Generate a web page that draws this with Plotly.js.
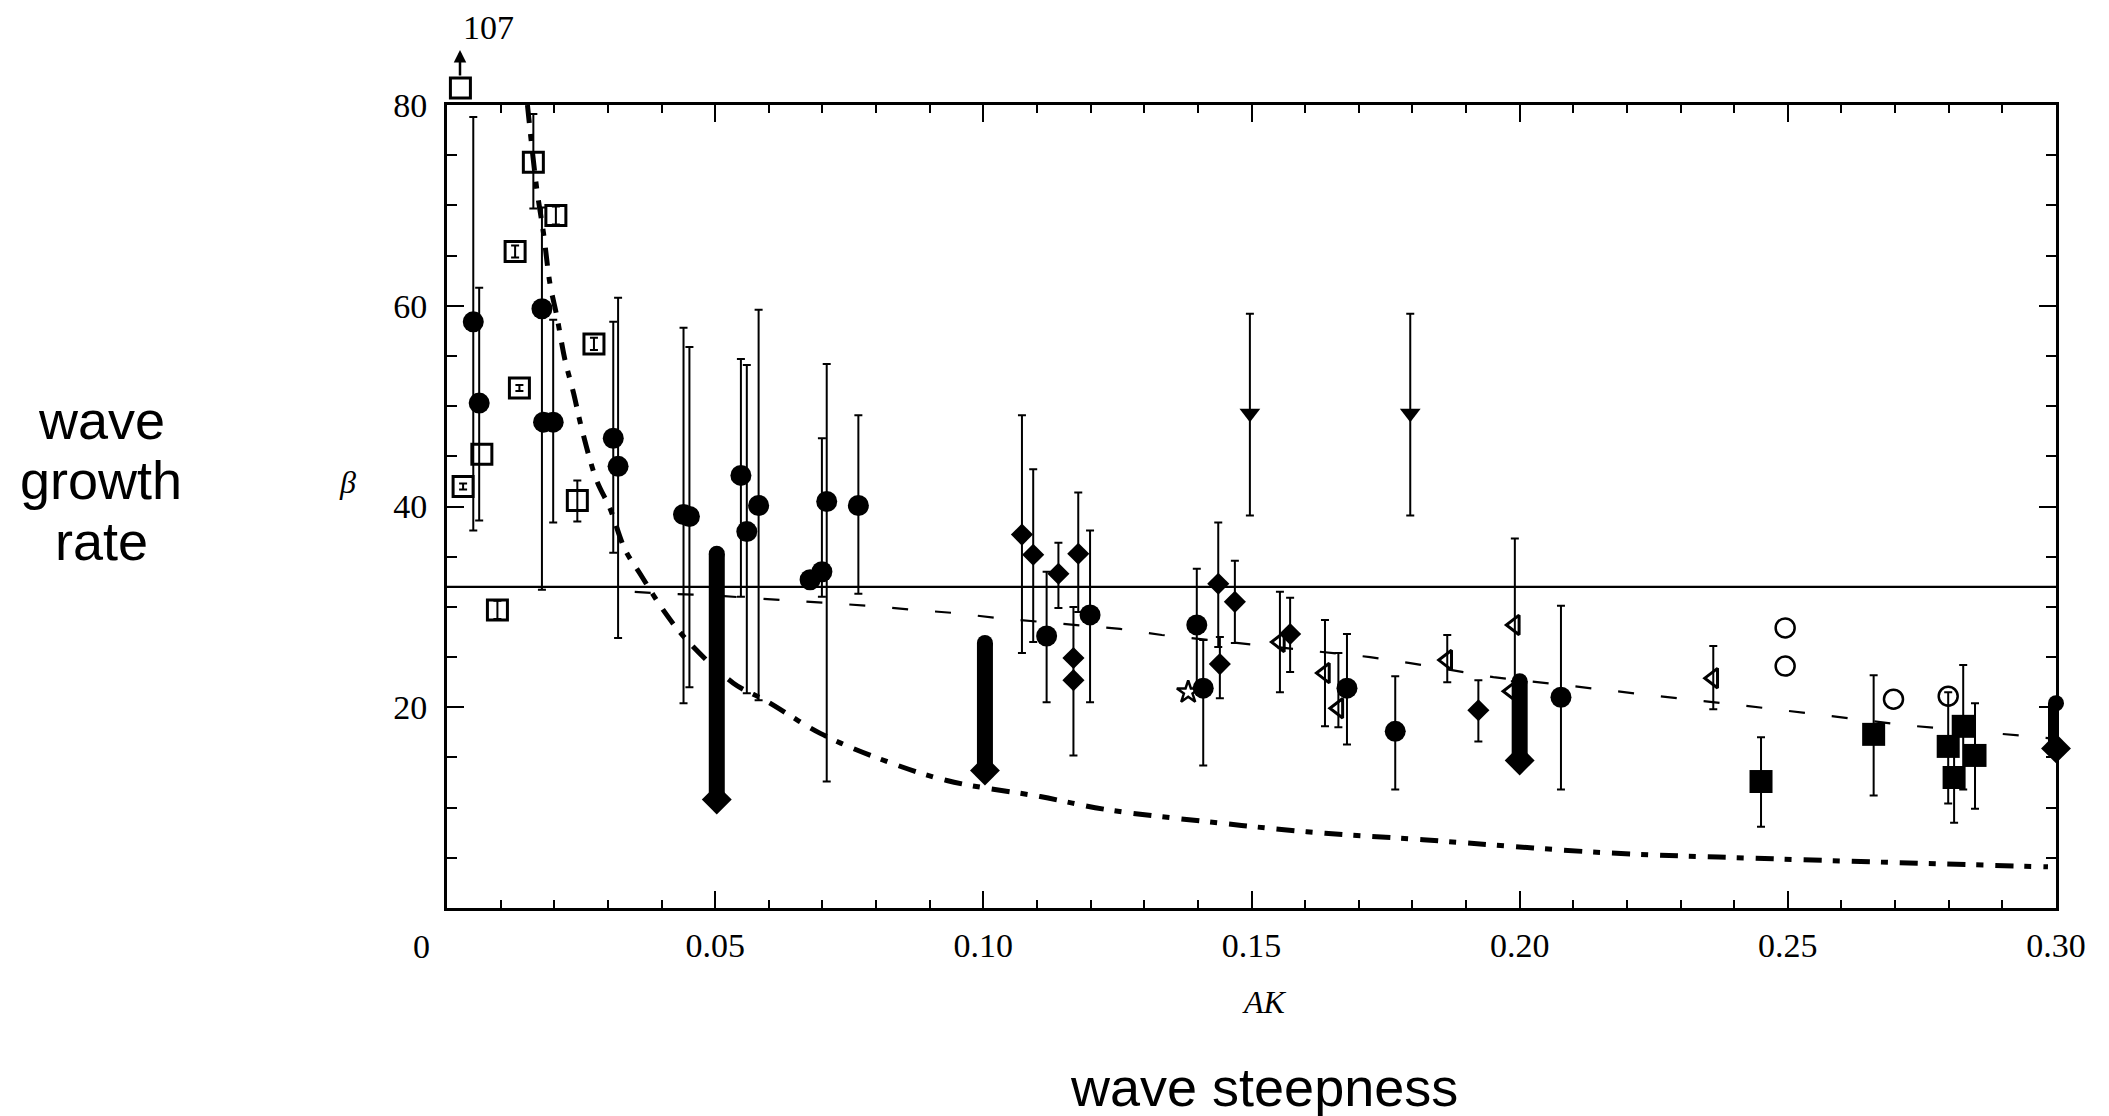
<!DOCTYPE html>
<html><head><meta charset="utf-8">
<script src="https://cdn.plot.ly/plotly-3.0.1.min.js"></script>
<style>html,body{margin:0;padding:0;background:#fff;} #chart{width:2109px;height:1116px;}</style>
</head><body><div id="chart"></div>
<script>
// ---- reference curves ----
const solidX = [0, 0.30];
const solidY = [32, 32];
const dashX = [0.035, 0.0403, 0.0478, 0.0637, 0.0789, 0.0870, 0.0944, 0.1025, 0.1255, 0.1333, 0.1721, 0.1796, 0.1951, 0.2100, 0.2259, 0.2414, 0.2573, 0.2722, 0.2990];
const dashY = [31.5, 31.3, 31.2, 30.6, 30.1, 29.7, 29.4, 28.9, 27.8, 27.2, 25.0, 24.4, 23.0, 22.1, 21.1, 20.2, 19.2, 18.2, 16.9];
const curveX = [0.0150, 0.0167, 0.0180, 0.0192, 0.0205, 0.0220, 0.0236, 0.0251, 0.0279, 0.0304, 0.0332, 0.0360, 0.0403, 0.0447, 0.0534, 0.0596, 0.0696, 0.0795, 0.0932, 0.1106, 0.1230, 0.1417, 0.1603, 0.1820, 0.2162, 0.2473, 0.2784, 0.2985];
const curveY = [80.0, 71.8, 67.2, 62.2, 58.9, 54.6, 51.3, 47.8, 42.6, 39.8, 35.7, 33.3, 29.7, 26.7, 22.4, 20.6, 17.4, 15.1, 12.7, 11.1, 9.8, 8.6, 7.6, 6.8, 5.5, 4.9, 4.4, 4.1];

// ---- filled circles ----
const circleX = [0.0049, 0.0060, 0.0177, 0.0180, 0.0198, 0.0310, 0.0319, 0.0441, 0.0452, 0.0548, 0.0559, 0.0581, 0.0677, 0.0699, 0.0708, 0.0767, 0.1118, 0.1199, 0.1398, 0.1410, 0.1678, 0.1768, 0.2077];
const circleY = [58.4, 50.3, 59.7, 48.4, 48.4, 46.8, 44.0, 39.2, 39.0, 43.1, 37.5, 40.1, 32.7, 33.5, 40.5, 40.1, 27.1, 29.2, 28.2, 21.9, 21.9, 17.6, 21.0];
const circleHi = [78.8, 61.8, 69.8, null, 58.6, 58.4, 60.8, 57.8, 55.9, 54.7, 54.1, 59.6, null, 46.8, 54.2, 49.1, 33.5, 37.6, 33.8, 26.7, 27.3, 23.1, 30.1];
const circleLo = [37.6, 38.6, 31.7, null, 38.4, 35.4, 26.9, 20.4, 22.0, 31.0, 21.4, 20.7, null, 31.0, 12.6, 31.3, 20.5, 20.5, 22.0, 14.2, 16.3, 11.8, 11.8];

// ---- open squares (first one is the off-scale point, beta = 107) ----
const sqOpenX = [0.0025, 0.0030, 0.0065, 0.0094, 0.0127, 0.0135, 0.0161, 0.0203, 0.0243, 0.0274];
const sqOpenY = [81.7, 42.0, 45.2, 29.7, 65.4, 51.8, 74.3, 69.0, 40.6, 56.2];
const sqOpenHi = [null, 42.3, null, 30.6, 66.0, 52.1, 79.1, 69.9, 42.6, 56.8];
const sqOpenLo = [null, 41.7, null, 28.8, 64.8, 51.5, 69.7, 68.1, 38.5, 55.6];

// ---- filled diamonds ----
const diaX = [0.1072, 0.1093, 0.1140, 0.1177, 0.1168, 0.1168, 0.1438, 0.1441, 0.1469, 0.1572, 0.1923];
const diaY = [37.2, 35.2, 33.3, 35.3, 24.9, 22.7, 32.3, 24.3, 30.5, 27.3, 19.7];
const diaHi = [49.1, 43.7, 36.4, 41.4, 30.0, null, 38.4, 27.0, 34.6, 30.9, 22.7];
const diaLo = [25.4, 26.5, 29.9, 29.5, 15.2, null, 26.0, 20.9, 26.4, 23.5, 16.6];

// ---- filled down triangles ----
const triDownX = [0.1497, 0.1796];
const triDownY = [49.3, 49.3];
const triDownHi = [59.2, 59.2];
const triDownLo = [39.1, 39.1];

// ---- open left triangles ----
const triLeftX = [0.1553, 0.1637, 0.1662, 0.1865, 0.1991, 0.1985, 0.2361];
const triLeftY = [26.5, 23.4, 19.9, 24.7, 28.2, 21.6, 22.9];
const triLeftHi = [31.5, 28.7, 25.4, 27.2, 36.8, null, 26.1];
const triLeftLo = [21.5, 18.1, 18.0, 22.5, 22.6, null, 19.8];

// ---- open star ----
const starX = [0.1382];
const starY = [21.5];

// ---- open circles ----
const openCircX = [0.2495, 0.2495, 0.2697, 0.2799];
const openCircY = [27.9, 24.1, 20.8, 21.1];

// ---- filled squares ----
const sqFillX = [0.2450, 0.2660, 0.2799, 0.2827, 0.2810, 0.2849];
const sqFillY = [12.6, 17.3, 16.1, 18.1, 13.0, 15.2];
const sqFillHi = [17.0, 23.2, 21.5, 24.2, 16.0, 20.4];
const sqFillLo = [8.1, 11.2, 10.4, 11.8, 8.5, 9.9];

// ---- thick ranges (bar with diamond at bottom) ----
const rangeX = [0.0503, 0.1003, 0.2000, 0.3000];
const rangeTop = [35.3, 26.4, 22.6, 20.4];
const rangeBottom = [10.8, 13.7, 14.7, 15.9];

// ---- tick labels ----
const xTickVals = [0.05, 0.10, 0.15, 0.20, 0.25, 0.30];
const xTickText = ['0.05', '0.10', '0.15', '0.20', '0.25', '0.30'];
const yTickVals = [20, 40, 60, 80];
const yTickText = ['20', '40', '60', '80'];

// Build marker traces; points with an error bar and points without one go in separate traces
function markerTraces(x, y, hi, lo, marker, extra) {
  const withE = { x: [], y: [], p: [], m: [] }, noE = { x: [], y: [] };
  x.forEach((xv, i) => {
    if (hi && hi[i] != null) {
      withE.x.push(xv); withE.y.push(y[i]);
      withE.p.push(hi[i] - y[i]); withE.m.push(y[i] - lo[i]);
    } else { noE.x.push(xv); noE.y.push(y[i]); }
  });
  const out = [];
  if (withE.x.length) out.push(Object.assign({
    x: withE.x, y: withE.y, mode: 'markers', marker: marker,
    error_y: { type: 'data', symmetric: false, array: withE.p, arrayminus: withE.m,
               color: '#000', thickness: 2, width: 4 } }, extra || {}));
  if (noE.x.length) out.push(Object.assign({
    x: noE.x, y: noE.y, mode: 'markers', marker: marker }, extra || {}));
  return out;
}

// geometry: plot area from y=60 to y=908 px; main y axis (0..80) occupies the lower part,
// a hidden twin axis with identical scale extends above it for the off-scale point.
const plotTop = 60, axisTop = 105, axisBottom = 908;
const yDomainTop = (axisBottom - axisTop) / (axisBottom - plotTop);
const yMax = 80;

const traces = [
  { x: solidX, y: solidY, mode: 'lines', line: { color: '#000', width: 2.2 } },
  { x: dashX, y: dashY, mode: 'lines', line: { color: '#000', width: 2.2, dash: '16px,27px' } },
  { x: curveX, y: curveY, mode: 'lines', line: { color: '#000', width: 5, dash: '18px,11px,7px,12px', shape: 'spline' } },
  // thick range bars
  { x: rangeX, y: rangeBottom, mode: 'markers', cliponaxis: false,
    marker: { symbol: 'diamond', size: 23, color: '#000' },
    error_y: { type: 'data', symmetric: false, array: rangeTop.map((t, i) => t - rangeBottom[i]),
               arrayminus: rangeX.map(() => 0), color: '#000', thickness: 16, width: 0 } },
  { x: rangeX, y: rangeTop, mode: 'markers', cliponaxis: false,
    marker: { symbol: 'circle', size: 16, color: '#000' } },
  ...markerTraces(circleX, circleY, circleHi, circleLo, { symbol: 'circle', size: 21, color: '#000' }),
  ...markerTraces(diaX, diaY, diaHi, diaLo, { symbol: 'diamond', size: 17, color: '#000' }),
  ...markerTraces(triDownX, triDownY, triDownHi, triDownLo, { symbol: 'triangle-down', size: 18, color: '#000' }),
  ...markerTraces(triLeftX, triLeftY, triLeftHi, triLeftLo, { symbol: 'triangle-left-open', size: 17, color: '#000', line: { width: 3 } }),
  ...markerTraces(starX, starY, null, null, { symbol: 'star-open', size: 17, color: '#000', line: { width: 2.5 } }),
  ...markerTraces(openCircX, openCircY, null, null, { symbol: 'circle-open', size: 19, color: '#000', line: { width: 2.5 } }),
  ...markerTraces(sqFillX, sqFillY, sqFillHi, sqFillLo, { symbol: 'square', size: 23, color: '#000' }),
  // open squares on twin axis with identical scale, so the off-scale point can show
  ...markerTraces(sqOpenX, sqOpenY, sqOpenHi, sqOpenLo, { symbol: 'square-open', size: 20, color: '#000', line: { width: 3 } },
                  { yaxis: 'y2', cliponaxis: false })
];
traces.forEach(t => { t.hoverinfo = 'skip'; });

const serif = 'Liberation Serif, Times New Roman, serif';
const sans = 'Liberation Sans, Arial, Helvetica, sans-serif';
const H = axisBottom - plotTop;
const py = Y => (axisBottom - Y) / H;   // pixel row -> paper fraction
const px = X => (X - 447) / 1609;

const layout = {
  width: 2109, height: 1116,
  margin: { l: 447, r: 53, t: plotTop, b: 208, pad: 0 },
  paper_bgcolor: '#fff', plot_bgcolor: 'rgba(0,0,0,0)',
  showlegend: false,
  xaxis: {
    range: [0, 0.30], tickmode: 'array', tickvals: xTickVals, ticktext: xTickText,
    ticks: 'inside', ticklen: 17, tickwidth: 2, tickcolor: '#000',
    minor: { tickmode: 'linear', tick0: 0, dtick: 0.01, ticks: 'inside', ticklen: 8, tickwidth: 2, tickcolor: '#000' },
    showline: true, linecolor: '#000', linewidth: 3, mirror: 'ticks',
    showgrid: false, zeroline: false, anchor: 'y',
    tickfont: { family: serif, size: 34, color: '#000' }, ticklabelstandoff: 5
  },
  yaxis: {
    domain: [0, yDomainTop],
    range: [0, yMax], tickmode: 'array', tickvals: yTickVals, ticktext: yTickText,
    ticks: 'inside', ticklen: 17, tickwidth: 2, tickcolor: '#000',
    minor: { tickmode: 'linear', tick0: 0, dtick: 5, ticks: 'inside', ticklen: 10, tickwidth: 2, tickcolor: '#000' },
    showline: true, linecolor: '#000', linewidth: 3, mirror: 'ticks',
    showgrid: false, zeroline: false,
    tickfont: { family: serif, size: 34, color: '#000' }, ticklabelstandoff: 10
  },
  yaxis2: {
    domain: [0, 1], range: [0, yMax / yDomainTop], visible: false,
    showgrid: false, zeroline: false, anchor: 'x'
  },
  annotations: [
    { xref: 'paper', yref: 'paper', x: px(421), y: py(946), text: '0', showarrow: false,
      xanchor: 'center', yanchor: 'middle', font: { family: serif, size: 34, color: '#000' } },
    { xref: 'paper', yref: 'paper', x: px(1264), y: py(1002), text: '<i>AK</i>', showarrow: false,
      xanchor: 'center', yanchor: 'middle', font: { family: serif, size: 32, color: '#000' } },
    { xref: 'paper', yref: 'paper', x: px(1264), y: py(1087), text: 'wave steepness', showarrow: false,
      xanchor: 'center', yanchor: 'middle', font: { family: sans, size: 54, color: '#000' } },
    { xref: 'paper', yref: 'paper', x: px(347), y: py(482), text: '<i>β</i>', showarrow: false,
      xanchor: 'center', yanchor: 'middle', font: { family: serif, size: 32, color: '#000' } },
    { xref: 'paper', yref: 'paper', x: px(101), y: py(420), text: 'wave', showarrow: false,
      xanchor: 'center', yanchor: 'middle', font: { family: sans, size: 54, color: '#000' } },
    { xref: 'paper', yref: 'paper', x: px(101), y: py(480), text: 'growth', showarrow: false,
      xanchor: 'center', yanchor: 'middle', font: { family: sans, size: 54, color: '#000' } },
    { xref: 'paper', yref: 'paper', x: px(101), y: py(541), text: 'rate', showarrow: false,
      xanchor: 'center', yanchor: 'middle', font: { family: sans, size: 54, color: '#000' } },
    { xref: 'paper', yref: 'paper', x: px(488), y: py(27), text: '107', showarrow: false,
      xanchor: 'center', yanchor: 'middle', font: { family: serif, size: 34, color: '#000' } },
    { xref: 'paper', yref: 'paper', x: px(460), y: py(50), text: '', showarrow: true, ax: 0, ay: 27,
      arrowhead: 2, arrowsize: 1, arrowwidth: 2.5, arrowcolor: '#000' }
  ]
};

Plotly.newPlot('chart', traces, layout, { displayModeBar: false, staticPlot: true });
</script></body></html>
